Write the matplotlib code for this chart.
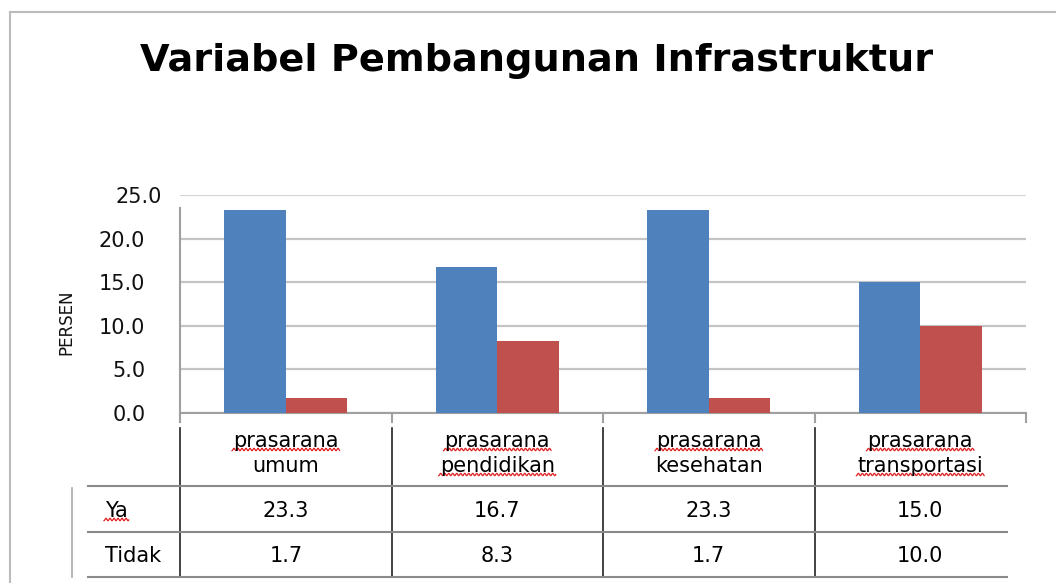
import numpy as np
import matplotlib.pyplot as plt
from matplotlib.lines import Line2D
import matplotlib.transforms as mtransforms
from matplotlib import font_manager

# data
categories = [["prasarana", "umum"], ["prasarana", "pendidikan"],
              ["prasarana", "kesehatan"], ["prasarana", "transportasi"]]
ya = [23.3, 16.7, 23.3, 15.0]
tidak = [1.7, 8.3, 1.7, 10.0]
row_names = ["Ya", "Tidak"]
yticks = [0, 5, 10, 15, 20, 25]
# words the spell checker underlined in the original picture
flagged = ["prasarana", "pendidikan", "transportasi", "Ya"]

W, H = 1056, 583
fig = plt.figure(figsize=(W / 100, H / 100), dpi=100)
ax = fig.add_axes([180 / W, 1 - 413 / H, 846 / W, 218 / H])

n = len(ya)
x = np.arange(n)
bw = 0.29
ax.bar(x - bw / 2, ya, bw, color="#4F81BD", zorder=3)
ax.bar(x + bw / 2, tidak, bw, color="#C0504D", zorder=3)

ax.set_xlim(-0.5, n - 0.5)
ax.set_ylim(0, 25)
ax.set_yticks(yticks)
ax.set_yticklabels(["%.1f" % v for v in yticks], fontsize=15, color="#111111")
ax.tick_params(axis="y", length=0, pad=25)
ax.set_xticks([])
ax.yaxis.grid(True, color="#c4c4c4", lw=1.6, zorder=0)
ax.get_ygridlines()[-1].set_color("#d6d6d6")
for s in ["top", "right"]:
    ax.spines[s].set_visible(False)
ax.spines["left"].set_color("#a0a0a0")
ax.spines["left"].set_linewidth(1.5)
ax.spines["left"].set_bounds(0, max(ya) + 0.2)
ax.spines["bottom"].set_color("#a0a0a0")
ax.spines["bottom"].set_linewidth(1.5)
# the top label sits further right in the original
top_lab = ax.get_yticklabels()[-1]
top_lab.set_transform(top_lab.get_transform() + mtransforms.ScaledTranslation(0.17, 0, fig.dpi_scale_trans))

installed = {f.name for f in font_manager.fontManager.ttflist}
narrow = "Liberation Sans Narrow" if "Liberation Sans Narrow" in installed else "DejaVu Sans"
ax.text(66 / W, 1 - 322 / H, "PERSEN", transform=fig.transFigure, rotation=90,
        fontsize=12, family=narrow, ha="center", va="center", color="#111111")

fig.text(537 / W, 1 - 61 / H, "Variabel Pembangunan Infrastruktur",
         fontsize=27.5, fontweight="bold", ha="center", va="center")

# frame lines of the chart area
fig.add_artist(Line2D([10 / W, 1], [1 - 12 / H, 1 - 12 / H], color="#bbbbbb", lw=1.5))
fig.add_artist(Line2D([10 / W, 10 / W], [0, 1 - 12 / H], color="#bbbbbb", lw=1.5))

# data table under the axis
tr = mtransforms.blended_transform_factory(ax.transData, fig.transFigure)


def fy(py):
    return 1 - py / H


fs = 15
texts = []
for i, (l1, l2) in enumerate(categories):
    texts.append(fig.text(i, fy(441), l1, transform=tr, fontsize=fs, ha="center", va="center"))
    texts.append(fig.text(i, fy(466), l2, transform=tr, fontsize=fs, ha="center", va="center"))
    fig.text(i, fy(511), "%.1f" % ya[i], transform=tr, fontsize=fs, ha="center", va="center")
    fig.text(i, fy(556), "%.1f" % tidak[i], transform=tr, fontsize=fs, ha="center", va="center")

texts.append(fig.text(105 / W, fy(511), row_names[0], fontsize=fs, ha="left", va="center"))
fig.text(105 / W, fy(556), row_names[1], fontsize=fs, ha="left", va="center")

for py in [486, 532, 577]:
    fig.add_artist(Line2D([88 / W, 1007 / W], [fy(py), fy(py)], color="#8a8a8a", lw=1.5))
fig.add_artist(Line2D([72 / W, 72 / W], [fy(488), fy(577)], color="#aaaaaa", lw=1.2))
for b in np.arange(n + 1) - 0.5:
    if b < n - 0.5:
        ax.plot([b, b], [fy(428), fy(577)], transform=tr, color="#222222", lw=1.2, clip_on=False)
    ax.plot([b, b], [fy(413), fy(422)], transform=tr, color="#a0a0a0", lw=1.5, clip_on=False)

# red wavy underline just below the baseline of the flagged words
fig.canvas.draw()
r = fig.canvas.get_renderer()
for t in texts:
    if t.get_text() not in flagged:
        continue
    bb = t.get_window_extent(r)
    _, _, d = r.get_text_width_height_descent("lp", t.get_fontproperties(), ismath=False)
    base = bb.y0 + d
    xs = np.linspace(bb.x0 - 1, bb.x1 + 1, 200)
    ys = base - 2.5 + 1.2 * np.sin((xs - bb.x0) * 2 * np.pi / 4.0)
    fig.add_artist(Line2D(xs / W, ys / H, color="#e02020", lw=0.9))

fig.savefig("out.png", dpi=100)
